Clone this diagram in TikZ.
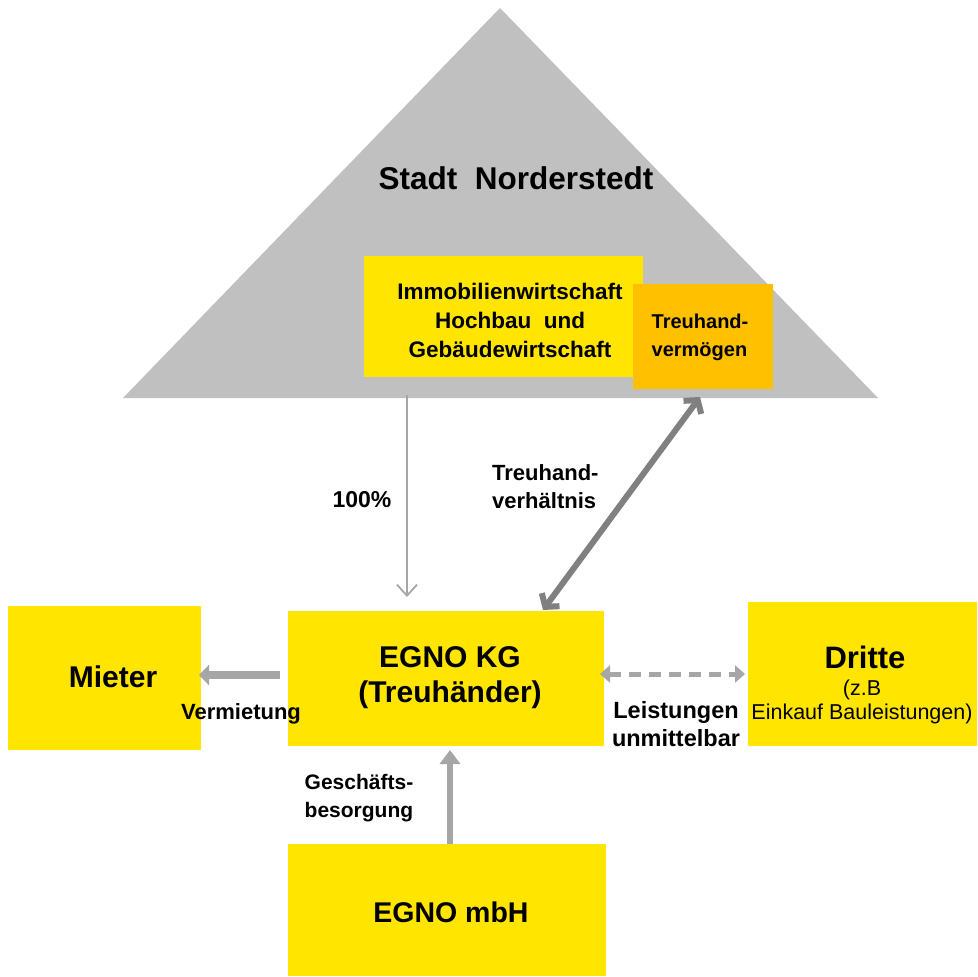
\documentclass[tikz,border=0pt]{standalone}
\usepackage{fontspec}
\setmainfont{Liberation Sans}
\usetikzlibrary{arrows.meta}
\definecolor{ygold}{HTML}{FFE500}
\definecolor{orng}{HTML}{FFC000}
\definecolor{tri}{HTML}{C0C0C0}
\definecolor{arrg}{HTML}{A6A6A6}
\definecolor{darkg}{HTML}{808080}
\tikzset{
  box/.style={fill=ygold, draw=none, inner sep=0pt},
  lbl/.style={font=\bfseries\fontsize{21}{28}\selectfont, align=left, inner sep=0pt},
  big/.style={font=\bfseries\fontsize{30}{35}\selectfont, align=center},
}
\begin{document}
\begin{tikzpicture}[x=1pt,y=-1pt]
\useasboundingbox (0,0) rectangle (977,977);
% triangle
\fill[tri] (500,8) -- (878,398) -- (123,398) -- cycle;
\node[font=\bfseries\fontsize{31.5}{35}\selectfont] (stadt) at (516,178) {Stadt\ \ Norderstedt};
% boxes
\node[box, minimum width=279pt, minimum height=121pt, anchor=north west] (immo) at (364,256) {};
\node[font=\bfseries\fontsize{22.5}{29}\selectfont, align=center] at (510,320) {Immobilienwirtschaft\\Hochbau\ \ und\\Gebäudewirtschaft};
\node[fill=orng, minimum width=140pt, minimum height=105pt, anchor=north west, inner sep=0pt] (treu) at (633,284) {};
\node[font=\bfseries\fontsize{20}{28}\selectfont, align=left] at (700,337) {Treuhand-\\vermögen};
\node[box, minimum width=316pt, minimum height=135pt, anchor=north west] (kg) at (288,611) {};
\node[big] at (450,678) {EGNO KG\\(Treuhänder)};
\node[box, minimum width=193pt, minimum height=144pt, anchor=north west] (mieter) at (8,606) {};
\node[big] at (113,677) {Mieter};
\node[box, minimum width=229pt, minimum height=144pt, anchor=north west] (dritte) at (748,602) {};
\node[big, font=\bfseries\fontsize{31}{35}\selectfont] at (865,657) {Dritte};
\node[font=\fontsize{21.5}{23.5}\selectfont, align=center, inner sep=0pt] at (862,702) {(z.B\\Einkauf Bauleistungen)};
\node[box, minimum width=318pt, minimum height=132pt, anchor=north west] (mbh) at (288,844) {};
\node[big, font=\bfseries\fontsize{28.5}{35}\selectfont] at (451,912) {EGNO mbH};
% connectors
\coordinate (a1) at (407,395);
\coordinate (a2) at (407,597);
\draw[arrg, line width=1.8pt, -{Straight Barb[length=11pt,width=20pt]}] (a1) -- (a2);
\node[lbl, font=\bfseries\fontsize{23}{28}\selectfont] at (362,500) {100\%};
\coordinate (t1) at (700,397);
\coordinate (t2) at (543,610);
\draw[darkg, line width=6pt, {Straight Barb[length=9pt,width=22pt]}-{Straight Barb[length=9pt,width=22pt]}] (t1) -- (t2);
\node[lbl, font=\bfseries\fontsize{22}{28}\selectfont, anchor=west] at (492,487) {Treuhand-\\verhältnis};
\coordinate (m1) at (280,675);
\coordinate (m2) at (199,675);
\draw[arrg, line width=8pt, -{Triangle[length=10pt,width=20pt]}] (m1) -- (m2);
\node[lbl, font=\bfseries\fontsize{22}{28}\selectfont] at (241,714) {Vermietung};
\coordinate (d1) at (600,674);
\coordinate (d2) at (745,674);
\draw[arrg, line width=5pt, dash pattern=on 12pt off 8pt, {Triangle[length=10pt,width=17pt]}-{Triangle[length=10pt,width=17pt]}] (d1) -- (d2);
\node[lbl, font=\bfseries\fontsize{23.5}{28}\selectfont, align=center] at (676,724) {Leistungen\\unmittelbar};
\coordinate (g1) at (450,844);
\coordinate (g2) at (450,750);
\draw[arrg, line width=6pt, -{Triangle[length=14pt,width=20pt]}] (g1) -- (g2);
\node[lbl, font=\bfseries\fontsize{21}{28}\selectfont] at (359,798) {Geschäfts-\\besorgung};
\end{tikzpicture}
\end{document}
